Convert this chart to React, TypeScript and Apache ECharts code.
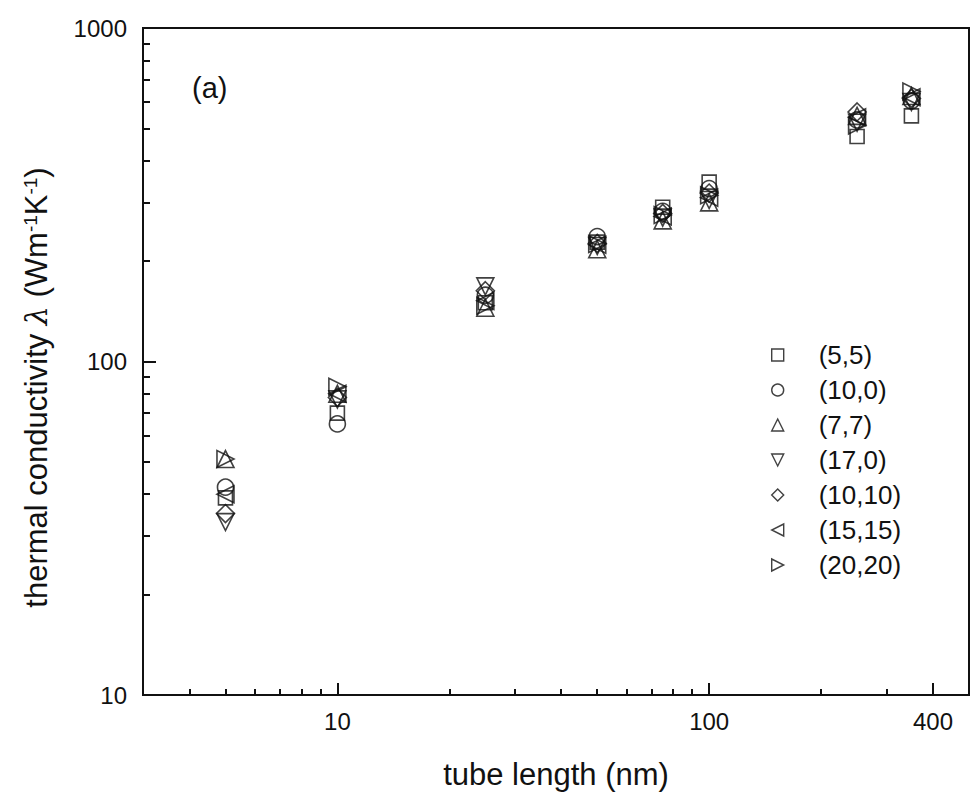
import React, { useEffect, useRef } from "react";
import * as echarts from "echarts";

// ---- data ----
const lengths = [5, 10, 25, 50, 75, 100, 250, 350];
const seriesNames = ["(5,5)", "(10,0)", "(7,7)", "(17,0)", "(10,10)", "(15,15)", "(20,20)"];
const k55 = [39, 70, 150, 228, 290, 345, 473, 545];
const k100 = [42, 65, 158, 237, 282, 330, 530, 605];
const k77 = [51, 80, 145, 217, 265, 300, 545, 625];
const k170 = [33, 77, 168, 222, 270, 305, 520, 600];
const k1010 = [35, 78, 163, 226, 278, 320, 560, 615];
const k1515 = [40, 80, 152, 224, 272, 310, 540, 620];
const k2020 = [51, 84, 147, 225, 275, 315, 510, 645];
const allValues = [k55, k100, k77, k170, k1010, k1515, k2020];

const xMajorTicks = [10, 100, 400];
const xMinorTicks = [4, 5, 6, 7, 8, 9, 20, 30, 40, 50, 60, 70, 80, 90, 200, 300];
const yMajorTicks = [10, 100, 1000];
const yMinorTicks = [20, 30, 40, 50, 60, 70, 80, 90, 200, 300, 400, 500, 600, 700, 800, 900];

const symbols = [
  "rect",
  "circle",
  "triangle",
  "path://M0,0L10,0L5,10Z",
  "diamond",
  "path://M10,0L10,10L0,5Z",
  "path://M0,0L0,10L10,5Z",
];
const symbolSizes = [14, 16, 17, 17, 18, 17, 17];

const FONT = "'Liberation Sans', Arial, sans-serif";
const INK = "#111";

export default function App() {
  const ref = useRef<HTMLDivElement>(null);
  useEffect(() => {
    if (!ref.current) return;
    const chart = echarts.init(ref.current, null, { renderer: "svg" });
    const series = seriesNames.map((name, i) => ({
      name,
      type: "scatter",
      symbol: symbols[i],
      symbolSize: symbolSizes[i],
      xAxisIndex: 0,
      yAxisIndex: 0,
      itemStyle: { color: "rgba(0,0,0,0)", borderColor: INK, borderWidth: 1.6 },
      emphasis: { disabled: true },
      data: lengths.map((x, j) => [x, allValues[i][j]]),
    }));
    const plain = (v: number) => String(v);
    const option = {
      animation: false,
      backgroundColor: "#fff",
      grid: {
        left: 143,
        top: 28,
        right: 4,
        bottom: 101,
        show: true,
        borderColor: INK,
        borderWidth: 2,
        backgroundColor: "rgba(0,0,0,0)",
      },
      xAxis: [
        {
          type: "log",
          logBase: 10,
          min: 3,
          max: 500,
          position: "bottom",
          axisLine: { show: true, onZero: false, lineStyle: { color: INK, width: 2 } },
          axisTick: { show: true, inside: true, length: 12, lineStyle: { color: INK, width: 2 }, customValues: xMajorTicks },
          axisLabel: { show: true, customValues: xMajorTicks, formatter: plain, margin: 14, fontSize: 24, color: INK, fontFamily: FONT },
          splitLine: { show: false },
          minorTick: { show: false },
          name: "tube length (nm)",
          nameLocation: "middle",
          nameGap: 64,
          nameTextStyle: { fontSize: 31, color: INK, fontFamily: FONT },
        },
        {
          type: "log",
          logBase: 10,
          min: 3,
          max: 500,
          position: "bottom",
          axisLine: { show: false, onZero: false },
          axisTick: { show: true, inside: true, length: 6, lineStyle: { color: INK, width: 2 }, customValues: xMinorTicks },
          axisLabel: { show: false },
          splitLine: { show: false },
        },
      ],
      yAxis: [
        {
          type: "log",
          logBase: 10,
          min: 10,
          max: 1000,
          position: "left",
          axisLine: { show: true, onZero: false, lineStyle: { color: INK, width: 2 } },
          axisTick: { show: true, inside: true, length: 13, lineStyle: { color: INK, width: 2 }, customValues: yMajorTicks },
          axisLabel: { show: true, customValues: yMajorTicks, formatter: plain, margin: 16, fontSize: 24, color: INK, fontFamily: FONT },
          splitLine: { show: false },
          minorTick: { show: false },
          name: "thermal conductivity {l|λ} (Wm{s|-1}K{s|-1})",
          nameLocation: "middle",
          nameRotate: 90,
          nameGap: 91,
          nameTextStyle: {
            fontSize: 31,
            color: INK,
            fontFamily: FONT,
            lineHeight: 31,
            padding: [0, 52, 0, 0],
            rich: {
              l: { fontSize: 30, fontFamily: "'DejaVu Serif', serif", fontStyle: "italic", color: INK, lineHeight: 31 },
              s: { fontSize: 19, fontFamily: FONT, color: INK, verticalAlign: "top", lineHeight: 19 },
            },
          },
        },
        {
          type: "log",
          logBase: 10,
          min: 10,
          max: 1000,
          position: "left",
          axisLine: { show: false, onZero: false },
          axisTick: { show: true, inside: true, length: 7, lineStyle: { color: INK, width: 2 }, customValues: yMinorTicks },
          axisLabel: { show: false },
          splitLine: { show: false },
        },
      ],
      legend: {
        orient: "vertical",
        left: 771,
        top: 342,
        padding: 0,
        itemWidth: 12,
        itemHeight: 12,
        itemGap: 9,
        selectedMode: false,
        data: seriesNames,
        itemStyle: { color: "rgba(0,0,0,0)", borderColor: INK, borderWidth: 1.4 },
        textStyle: { fontSize: 26, fontFamily: FONT, color: INK, lineHeight: 26, padding: [0, 0, 0, 30] },
      },
      graphic: [
        {
          type: "text",
          left: 192,
          top: 73,
          style: { text: "(a)", fontSize: 29, fontFamily: FONT, fill: INK },
        },
      ],
      series,
    };
    chart.setOption(option as any);
    return () => chart.dispose();
  }, []);
  return (
    <div
      ref={ref}
      style={{ position: "fixed", left: 0, top: 0, width: 973, height: 796, background: "#fff" }}
    />
  );
}
